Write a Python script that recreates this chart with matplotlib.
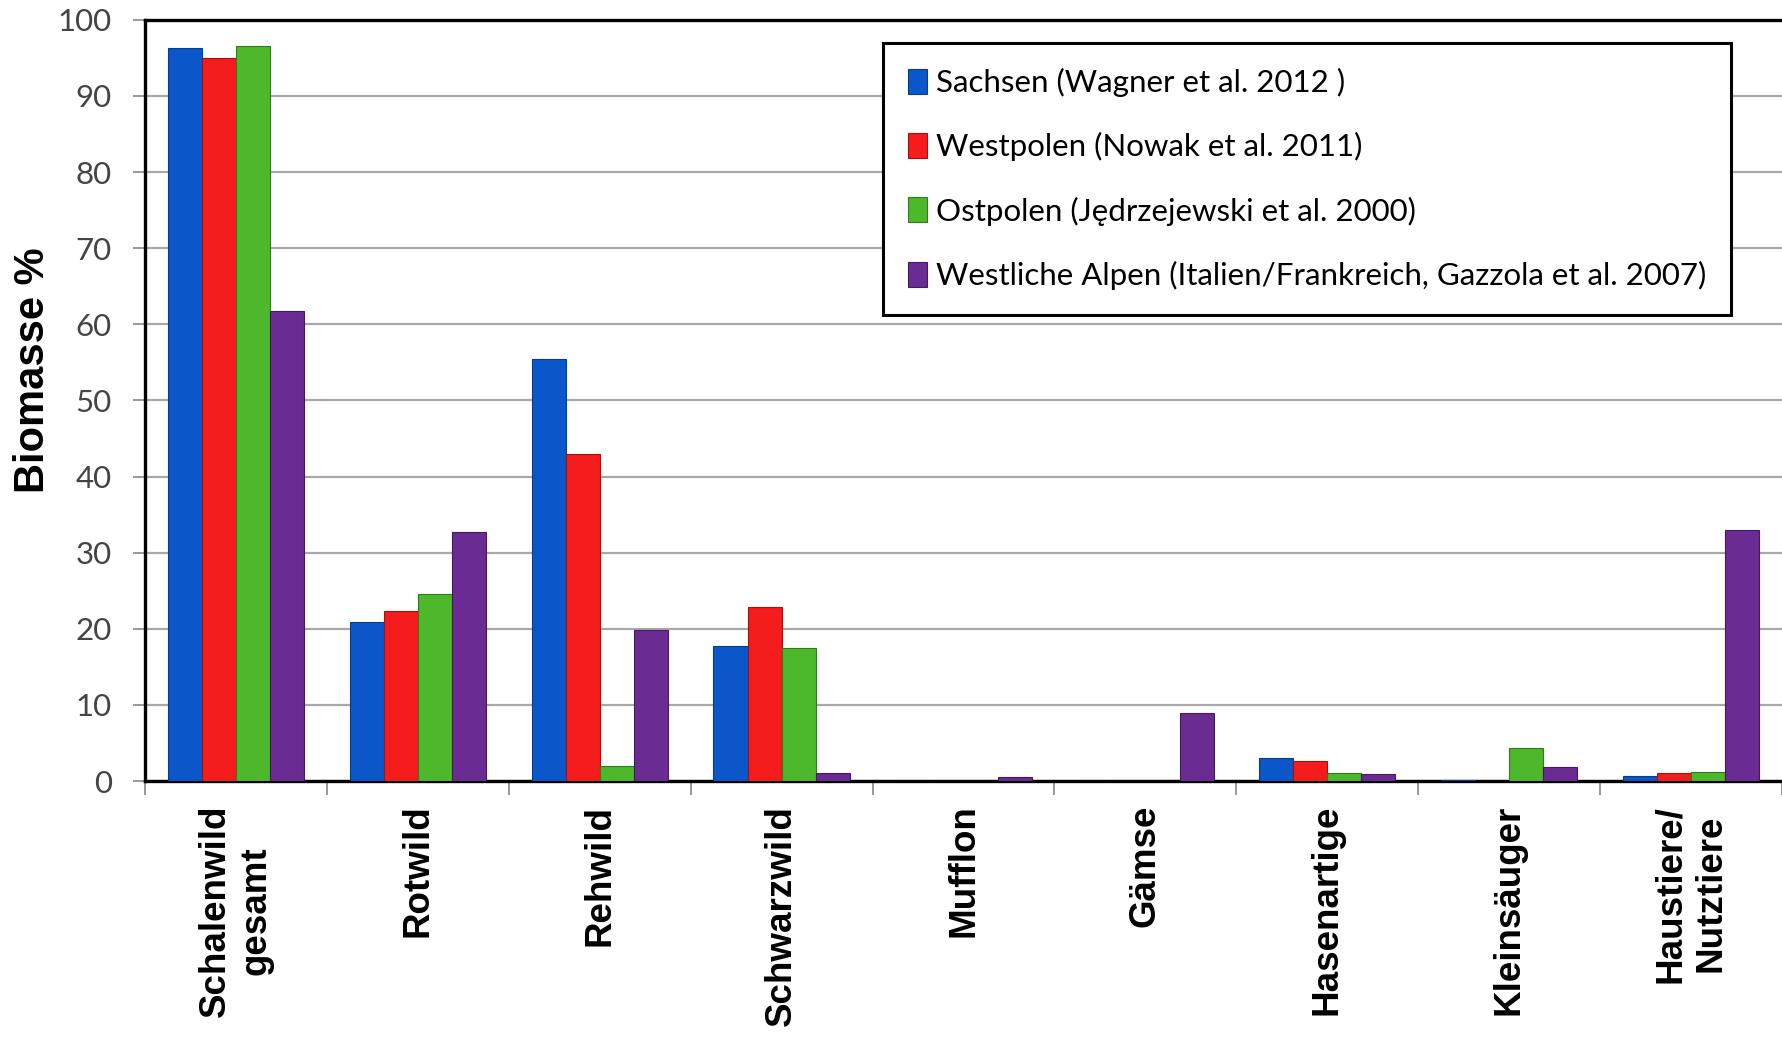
"""
Nahrungszusammensetzung des Wolfes: Anteil an der Biomasse (%)
in vier Untersuchungsgebieten.
"""
import numpy as np
import matplotlib
matplotlib.use('Agg')
import matplotlib.pyplot as plt

# Data
categories = ['Schalenwild\ngesamt', 'Rotwild', 'Rehwild', 'Schwarzwild', 'Mufflon',
              'Gämse', 'Hasenartige', 'Kleinsäuger', 'Haustiere/\nNutztiere']
sachsen = [96.3, 20.9, 55.4, 17.8, 0.0, 0.0, 3.0, 0.2, 0.6]
westpolen = [95.0, 22.3, 42.9, 22.8, 0.0, 0.0, 2.6, 0.0, 1.0]
ostpolen = [96.6, 24.6, 2.0, 17.5, 0.0, 0.0, 1.0, 4.4, 1.2]
alpen = [61.7, 32.7, 19.9, 1.0, 0.5, 8.9, 0.9, 1.9, 33.0]

series_labels = ['Sachsen (Wagner et al. 2012 )',
                 'Westpolen (Nowak et al. 2011)',
                 'Ostpolen (Jędrzejewski et al. 2000)',
                 'Westliche Alpen (Italien/Frankreich, Gazzola et al. 2007)']
colors = ['#0b57c9', '#f41c1c', '#4db82b', '#6a2c92']
edges = ['#063c8c', '#a81010', '#2f7d18', '#45185f']

fig = plt.figure(figsize=(17.82, 10.40), dpi=100)
ax = fig.add_axes([0.0814, 0.249, 0.9186, 0.732])

x = np.arange(len(categories))
width = 0.1875
for i, (vals, lab) in enumerate(zip([sachsen, westpolen, ostpolen, alpen], series_labels)):
    ax.bar(x + (i - 1.5) * width, vals, width, color=colors[i], edgecolor=edges[i],
           linewidth=0.8, label=lab, zorder=3)

ax.set_xlim(-0.5, len(categories) - 0.5)
ax.set_ylim(0, 100)
ax.set_yticks(range(0, 101, 10))
ax.yaxis.grid(True, color='#a8a8a8', linewidth=1.6)
ax.set_axisbelow(True)

for s in ['left', 'top', 'bottom']:
    ax.spines[s].set_linewidth(2.4)
    ax.spines[s].set_color('black')
ax.spines['right'].set_visible(False)

ax.tick_params(axis='y', length=9, width=1.4, color='#999999', pad=15,
               labelsize=22.5, labelcolor='#444444')
for t in ax.get_yticklabels():
    t.set_family('Lato')

ax.set_xticks(x)
ax.set_xticklabels(categories, rotation=90, fontweight='bold', fontsize=26.5,
                   family='Liberation Sans', multialignment='center', va='top')
ax.tick_params(axis='x', which='major', length=0, pad=17)
ax.set_xticks(np.arange(-0.5, len(categories), 1.0), minor=True)
ax.tick_params(axis='x', which='minor', length=10, width=1.4, color='#999999')

ax.set_ylabel('Biomasse %', fontsize=30, fontweight='bold', family='Liberation Sans')
ax.yaxis.set_label_coords(-0.056, 0.54)

leg = ax.legend(loc='upper left', bbox_to_anchor=(0.4508, 0.9698), borderaxespad=0,
                prop={'family': 'Lato', 'size': 22.5}, fancybox=False, framealpha=1,
                edgecolor='black', handlelength=0.6, handleheight=0.85,
                handletextpad=0.3, labelspacing=1.13, borderpad=0.8)
leg.get_frame().set_linewidth(2.2)

fig.savefig('out.png', dpi=100, facecolor='white')
